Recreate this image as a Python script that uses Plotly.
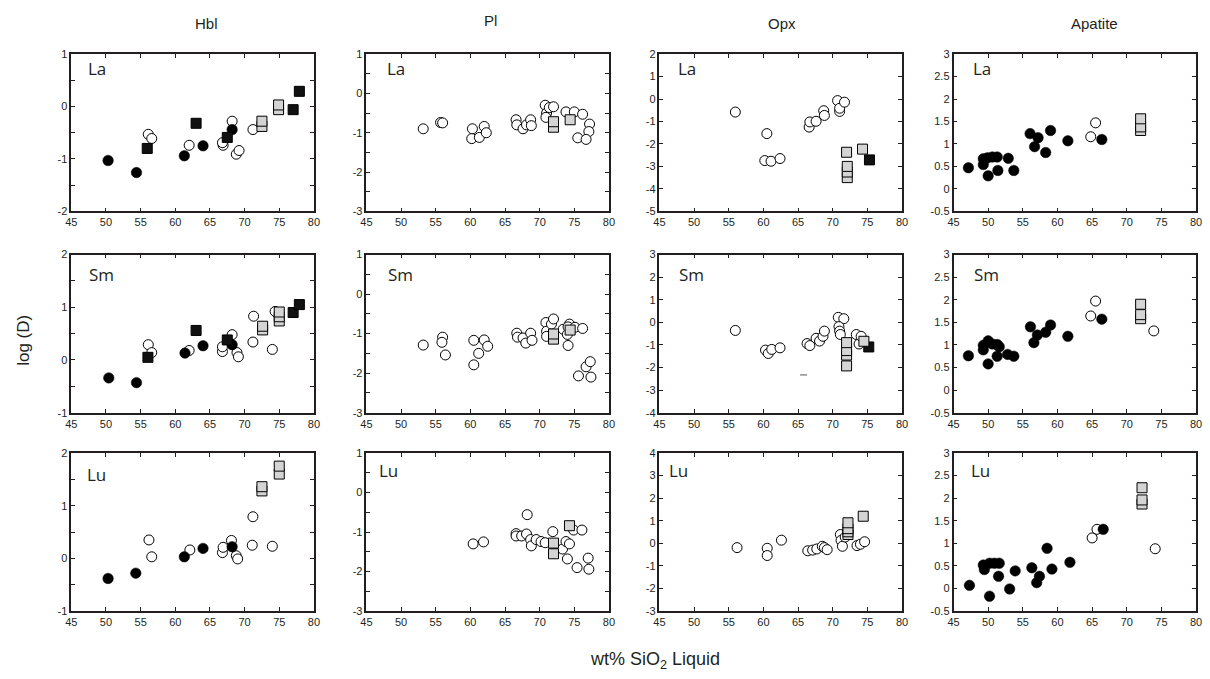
import plotly.graph_objects as go

W, H = 1210, 679

# ---------------- data: [SiO2 wt%, log D] ----------------
HBL_LA_OPEN = [[56.1, -0.53], [56.6, -0.61], [62.0, -0.74], [66.9, -0.74], [66.8, -0.69],
               [68.2, -0.28], [68.8, -0.91], [69.2, -0.84], [71.2, -0.44]]
HBL_LA_FILLED = [[50.3, -1.03], [54.4, -1.26], [61.3, -0.94], [64.0, -0.75], [68.2, -0.44]]
HBL_LA_BLACKSQ = [[55.95, -0.80], [63.0, -0.32], [67.5, -0.59], [77.0, -0.06], [77.9, 0.29]]
HBL_LA_GRAYSQ = [[72.5, -0.38], [72.5, -0.28], [74.9, -0.06], [74.9, 0.03]]

HBL_SM_OPEN = [[56.1, 0.29], [56.6, 0.14], [62.0, 0.18], [66.8, 0.16], [66.8, 0.25], [68.2, 0.48],
               [68.9, 0.14], [69.1, 0.06], [71.2, 0.34], [71.3, 0.83], [74.0, 0.20], [74.4, 0.92]]
HBL_SM_FILLED = [[50.4, -0.34], [54.4, -0.43], [61.4, 0.13], [64.0, 0.27], [68.2, 0.29]]
HBL_SM_BLACKSQ = [[56.05, 0.05], [63.0, 0.56], [67.5, 0.38], [77.0, 0.90], [77.9, 1.05]]
HBL_SM_GRAYSQ = [[72.6, 0.57], [72.6, 0.64], [75.0, 0.74], [75.0, 0.82], [75.0, 0.91]]

HBL_LU_OPEN = [[56.2, 0.35], [56.6, 0.03], [62.1, 0.16], [66.8, 0.11], [66.9, 0.21], [68.1, 0.34],
               [68.8, 0.05], [69.0, -0.01], [71.1, 0.25], [71.2, 0.79], [74.0, 0.23]]
HBL_LU_FILLED = [[50.3, -0.38], [54.3, -0.28], [61.3, 0.03], [64.0, 0.19], [68.2, 0.22]]
HBL_LU_BLACKSQ = []
HBL_LU_GRAYSQ = [[72.5, 1.28], [72.5, 1.36], [75.0, 1.60], [75.0, 1.75]]

PL_LA_OPEN = [[53.2, -0.90], [55.7, -0.74], [56.0, -0.75], [60.3, -0.90], [60.2, -1.15], [61.3, -1.12],
              [62.0, -0.84], [62.3, -1.00], [66.6, -0.67], [66.7, -0.80], [67.6, -0.90], [68.1, -0.80],
              [68.7, -0.67], [68.8, -0.82], [70.8, -0.30], [71.0, -0.50], [70.9, -0.61], [71.4, -0.36],
              [72.0, -0.34], [73.8, -0.47], [75.0, -0.47], [76.2, -0.53], [77.2, -0.78], [77.1, -0.97],
              [75.5, -1.13], [76.7, -1.17]]
PL_LA_FILLED = []
PL_LA_BLACKSQ = []
PL_LA_GRAYSQ = [[72.0, -0.86], [72.0, -0.72], [74.4, -0.67]]

PL_SM_OPEN = [[53.2, -1.29], [56.0, -1.09], [55.9, -1.22], [56.4, -1.54], [60.5, -1.79], [60.5, -1.17],
              [61.2, -1.50], [62.0, -1.16], [62.5, -1.32], [66.7, -0.99], [66.8, -1.09], [67.6, -1.11],
              [68.0, -1.24], [68.7, -0.99], [68.9, -1.17], [70.9, -0.72], [71.0, -0.94], [71.0, -1.07],
              [71.7, -0.76], [72.0, -0.63], [73.4, -0.89], [74.0, -1.02], [74.1, -1.30], [74.3, -0.76],
              [74.1, -0.83], [75.1, -0.84], [76.2, -0.87], [75.6, -2.07], [76.7, -1.84], [77.3, -1.71],
              [77.4, -2.10]]
PL_SM_FILLED = []
PL_SM_BLACKSQ = []
PL_SM_GRAYSQ = [[72.0, -1.14], [72.0, -1.01], [74.4, -0.91]]

PL_LU_OPEN = [[60.4, -1.30], [61.9, -1.25], [66.6, -1.04], [66.6, -1.10], [67.4, -1.10], [68.1, -1.05],
              [68.2, -0.56], [68.7, -1.19], [68.8, -1.35], [69.5, -1.19], [70.2, -1.24], [70.8, -1.27],
              [71.9, -0.99], [73.3, -1.43], [73.8, -1.24], [74.3, -1.30], [74.0, -1.68], [74.9, -0.95],
              [76.1, -0.95], [75.4, -1.90], [77.0, -1.66], [77.1, -1.94]]
PL_LU_FILLED = []
PL_LU_BLACKSQ = []
PL_LU_GRAYSQ = [[72.0, -1.55], [72.0, -1.28], [74.3, -0.84]]

OPX_LA_OPEN = [[55.95, -0.58], [60.5, -1.54], [60.2, -2.74], [61.1, -2.77], [62.4, -2.65],
               [66.6, -1.25], [66.7, -1.02], [67.6, -0.99], [68.7, -0.52], [68.8, -0.73],
               [70.7, -0.07], [71.0, -0.55], [71.0, -0.41], [71.7, -0.14]]
OPX_LA_FILLED = []
OPX_LA_BLACKSQ = [[75.3, -2.71]]
OPX_LA_GRAYSQ = [[72.0, -2.37], [72.1, -3.50], [72.1, -3.25], [72.1, -3.00], [74.3, -2.23]]

OPX_SM_OPEN = [[55.95, -0.36], [60.3, -1.23], [60.7, -1.38], [61.2, -1.20], [62.4, -1.13],
               [66.3, -0.94], [66.7, -1.03], [67.6, -0.71], [68.1, -0.83], [68.6, -0.62],
               [68.8, -0.39], [70.8, 0.22], [71.6, 0.16], [70.9, -0.19], [71.0, -0.39],
               [71.1, -0.54], [73.4, -0.54], [73.8, -0.96], [74.1, -0.62]]
OPX_SM_FILLED = []
OPX_SM_BLACKSQ = [[75.2, -1.09]]
OPX_SM_GRAYSQ = [[72.0, -1.93], [72.0, -1.45], [72.0, -1.25], [72.0, -0.90], [74.5, -0.84]]
OPX_SM_DASH = [[65.8, -2.33]]

OPX_LU_OPEN = [[56.2, -0.19], [60.55, -0.22], [60.55, -0.54], [62.6, 0.14], [66.4, -0.33],
               [67.1, -0.30], [67.7, -0.25], [68.5, -0.13], [68.8, -0.19], [69.2, -0.28],
               [71.1, 0.39], [71.2, 0.13], [71.4, -0.13], [71.8, 0.28], [73.5, -0.10],
               [74.0, -0.04], [74.6, 0.07]]
OPX_LU_FILLED = []
OPX_LU_BLACKSQ = []
OPX_LU_GRAYSQ = [[72.2, 0.39], [72.2, 0.51], [72.2, 0.65], [72.2, 0.91], [74.4, 1.20]]

APA_LA_OPEN = [[64.8, 1.16], [65.5, 1.47]]
APA_LA_FILLED = [[47.15, 0.47], [49.3, 0.67], [49.3, 0.54], [49.9, 0.69], [50.6, 0.71], [51.3, 0.71],
                 [50.0, 0.29], [51.4, 0.41], [52.9, 0.68], [53.7, 0.41], [56.05, 1.23], [57.2, 1.14],
                 [56.7, 0.94], [58.3, 0.81], [59.0, 1.30], [61.5, 1.07], [66.4, 1.10]]
APA_LA_BLACKSQ = []
APA_LA_GRAYSQ = [[72.0, 1.30], [72.0, 1.38], [72.0, 1.56]]

APA_SM_OPEN = [[64.8, 1.64], [65.5, 1.97], [73.9, 1.31]]
APA_SM_FILLED = [[47.15, 0.76], [49.3, 0.99], [49.3, 0.89], [50.0, 1.09], [50.6, 1.02], [51.3, 1.01],
                 [51.6, 0.96], [50.0, 0.58], [51.3, 0.75], [52.8, 0.79], [53.7, 0.75], [56.1, 1.40],
                 [57.1, 1.22], [56.6, 1.05], [58.3, 1.28], [59.0, 1.44], [61.5, 1.19], [66.4, 1.57]]
APA_SM_BLACKSQ = []
APA_SM_GRAYSQ = [[72.0, 1.58], [72.0, 1.67], [72.0, 1.90]]

APA_LU_OPEN = [[65.0, 1.12], [65.7, 1.31], [74.1, 0.88]]
APA_LU_FILLED = [[47.3, 0.07], [49.3, 0.52], [49.45, 0.42], [50.2, 0.56], [50.9, 0.56], [51.6, 0.56],
                 [50.2, -0.17], [51.5, 0.27], [53.1, -0.01], [53.9, 0.39], [56.3, 0.46], [57.4, 0.27],
                 [57.0, 0.13], [58.5, 0.89], [59.2, 0.43], [61.8, 0.58], [66.6, 1.31]]
APA_LU_BLACKSQ = []
APA_LU_GRAYSQ = [[72.2, 1.87], [72.2, 1.96], [72.2, 2.23]]

MINERALS = ["Hbl", "Pl", "Opx", "Apatite"]
ELEMENTS = ["La", "Sm", "Lu"]
X_TICKS = [45, 50, 55, 60, 65, 70, 75, 80]
# labelled y ticks
YT_HBL_LA = [-2, -1, 0, 1]
YT_HBL_SMLU = [-1, 0, 1, 2]
YT_PL = [-3, -2, -1, 0, 1]
YT_OPX_LA = [-5, -4, -3, -2, -1, 0, 1, 2]
YT_OPX_SM = [-4, -3, -2, -1, 0, 1, 2, 3]
YT_OPX_LU = [-3, -2, -1, 0, 1, 2, 3, 4]
YT_APA = [-0.5, 0, 0.5, 1, 1.5, 2, 2.5, 3]
# unlabelled half-unit ticks
YM_HBL_LA = [-1.5, -0.5, 0.5]
YM_HBL_SMLU = [-0.5, 0.5, 1.5]
YM_PL = [-2.5, -1.5, -0.5, 0.5]

PANEL_DATA = {
    (0, 0): (HBL_LA_OPEN, HBL_LA_FILLED, HBL_LA_BLACKSQ, HBL_LA_GRAYSQ),
    (1, 0): (HBL_SM_OPEN, HBL_SM_FILLED, HBL_SM_BLACKSQ, HBL_SM_GRAYSQ),
    (2, 0): (HBL_LU_OPEN, HBL_LU_FILLED, HBL_LU_BLACKSQ, HBL_LU_GRAYSQ),
    (0, 1): (PL_LA_OPEN, PL_LA_FILLED, PL_LA_BLACKSQ, PL_LA_GRAYSQ),
    (1, 1): (PL_SM_OPEN, PL_SM_FILLED, PL_SM_BLACKSQ, PL_SM_GRAYSQ),
    (2, 1): (PL_LU_OPEN, PL_LU_FILLED, PL_LU_BLACKSQ, PL_LU_GRAYSQ),
    (0, 2): (OPX_LA_OPEN, OPX_LA_FILLED, OPX_LA_BLACKSQ, OPX_LA_GRAYSQ),
    (1, 2): (OPX_SM_OPEN, OPX_SM_FILLED, OPX_SM_BLACKSQ, OPX_SM_GRAYSQ),
    (2, 2): (OPX_LU_OPEN, OPX_LU_FILLED, OPX_LU_BLACKSQ, OPX_LU_GRAYSQ),
    (0, 3): (APA_LA_OPEN, APA_LA_FILLED, APA_LA_BLACKSQ, APA_LA_GRAYSQ),
    (1, 3): (APA_SM_OPEN, APA_SM_FILLED, APA_SM_BLACKSQ, APA_SM_GRAYSQ),
    (2, 3): (APA_LU_OPEN, APA_LU_FILLED, APA_LU_BLACKSQ, APA_LU_GRAYSQ),
}
PANEL_YTICKS = {
    (0, 0): (YT_HBL_LA, YM_HBL_LA), (1, 0): (YT_HBL_SMLU, YM_HBL_SMLU), (2, 0): (YT_HBL_SMLU, YM_HBL_SMLU),
    (0, 1): (YT_PL, YM_PL), (1, 1): (YT_PL, YM_PL), (2, 1): (YT_PL, YM_PL),
    (0, 2): (YT_OPX_LA, []), (1, 2): (YT_OPX_SM, []), (2, 2): (YT_OPX_LU, []),
    (0, 3): (YT_APA, []), (1, 3): (YT_APA, []), (2, 3): (YT_APA, []),
}

# ---------------- layout geometry (pixels) ----------------
COL_PX = [(66, 311), (364, 609), (660, 905), (957, 1202)]
ROW_PX = [(49, 209), (253, 414), (455, 616)]
LABEL_OFF = {  # (dx from left, dy from top) of element label
    (0, 0): (15, 15), (1, 0): (16, 20), (2, 0): (14, 22),
    (0, 1): (19, 15), (1, 1): (20, 20), (2, 1): (11, 18),
    (0, 2): (17, 15), (1, 2): (18, 20), (2, 2): (8, 18),
    (0, 3): (18, 15), (1, 3): (19, 20), (2, 3): (16, 18),
}
TITLE_PX = [(203, 18), (489, 15), (784, 18), (1099, 18)]

INK = "#231f20"
TICK_FONT = dict(family="Liberation Sans, Arial, sans-serif", size=11, color=INK)
STYLES = [
    dict(symbol="circle", size=10, color="white", line=dict(color="black", width=1)),
    dict(symbol="circle", size=10.5, color="black", line=dict(color="black", width=0.5)),
    dict(symbol="square", size=10, color="#111111", line=dict(color="black", width=1)),
    dict(symbol="square", size=10, color="#d4d4d4", line=dict(color="black", width=1)),
]


def fmt(v):
    return f"{v:g}"


fig = go.Figure()
annotations = []
n = 0
for r in range(3):
    for c in range(4):
        n += 1
        xa = "x" if n == 1 else f"x{n}"
        ya = "y" if n == 1 else f"y{n}"
        xl, xr = COL_PX[c]
        yt, yb = ROW_PX[r]
        series = PANEL_DATA[(r, c)]
        for pts, st in zip(series, STYLES):
            if not pts:
                continue
            fig.add_trace(go.Scatter(
                x=[p[0] for p in pts], y=[p[1] for p in pts], mode="markers",
                marker=st, xaxis=xa, yaxis=ya, showlegend=False, hoverinfo="x+y"))
        if (r, c) == (1, 2):
            fig.add_trace(go.Scatter(
                x=[p[0] for p in OPX_SM_DASH], y=[p[1] for p in OPX_SM_DASH], mode="markers",
                marker=dict(symbol="line-ew", size=5, line=dict(color="#555", width=1)),
                xaxis=xa, yaxis=ya, showlegend=False))
        major, minor = PANEL_YTICKS[(r, c)]
        axn = "" if n == 1 else str(n)
        fig.layout["xaxis" + axn] = dict(
            domain=[xl / W, xr / W], anchor=ya, range=[45, 80],
            tickmode="array", tickvals=X_TICKS, ticktext=[str(v) for v in X_TICKS],
            ticks="inside", ticklen=4, tickwidth=1, tickcolor=INK,
            showline=True, linecolor=INK, linewidth=1.5, mirror="ticks",
            showgrid=False, zeroline=False, tickfont=TICK_FONT)
        ydict = dict(
            domain=[1 - yb / H, 1 - yt / H], anchor=xa,
            range=[min(major), max(major)],
            tickmode="array", tickvals=major, ticktext=[fmt(v) for v in major],
            ticks="inside", ticklen=4, tickwidth=1, tickcolor=INK,
            showline=True, linecolor=INK, linewidth=1.5, mirror="ticks",
            showgrid=False, zeroline=False, tickfont=TICK_FONT)
        if minor:
            ydict["minor"] = dict(tickmode="array", tickvals=minor, ticks="inside",
                                  ticklen=4, tickwidth=1, tickcolor=INK, showgrid=False)
        fig.layout["yaxis" + axn] = ydict
        dx, dy = LABEL_OFF[(r, c)]
        annotations.append(dict(
            text=ELEMENTS[r], xref="paper", yref="paper",
            x=(xl + dx) / W, y=1 - (yt + dy) / H, xanchor="left", yanchor="middle",
            showarrow=False, font=dict(family="Open Sans, Lato, sans-serif", size=17, color=INK)))

for c, name in enumerate(MINERALS):
    tx, ty = TITLE_PX[c]
    annotations.append(dict(
        text=name, xref="paper", yref="paper", x=tx / W, y=1 - ty / H,
        xanchor="center", yanchor="middle", showarrow=False,
        font=dict(family="Liberation Sans, Arial, sans-serif", size=15, color=INK)))

annotations.append(dict(
    text="log (D)", xref="paper", yref="paper", x=18 / W, y=1 - 340 / H, textangle=-90,
    xanchor="center", yanchor="middle", showarrow=False,
    font=dict(family="Liberation Sans, Arial, sans-serif", size=17, color=INK)))
annotations.append(dict(
    text="wt% SiO<sub>2</sub> Liquid", xref="paper", yref="paper", x=656 / W, y=1 - 666 / H,
    xanchor="center", yanchor="middle", showarrow=False,
    font=dict(family="Liberation Sans, Arial, sans-serif", size=18, color=INK)))

fig.update_layout(
    width=W, height=H, margin=dict(l=0, r=0, t=0, b=0),
    paper_bgcolor="white", plot_bgcolor="white",
    annotations=annotations, showlegend=False)

fig.write_html("out.html")
